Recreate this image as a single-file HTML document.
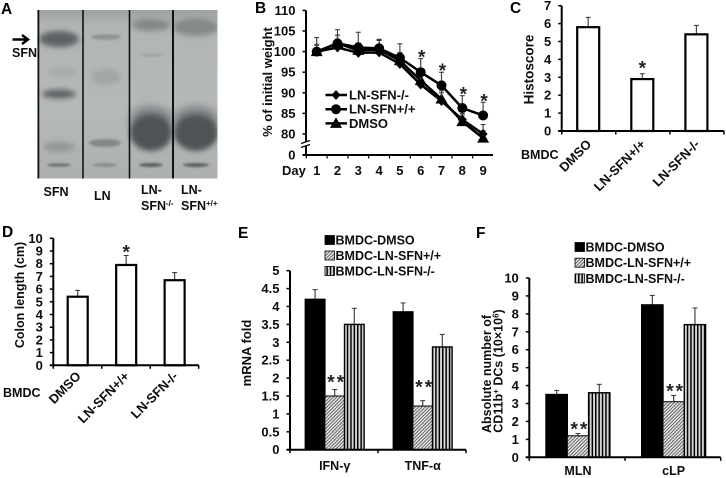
<!DOCTYPE html>
<html lang="en">
<head>
<meta charset="utf-8">
<title>Multi-panel figure</title>
<style>
html,body{margin:0;padding:0;background:#fff;width:726px;height:478px;overflow:hidden}
svg{display:block}
text{font-family:"Liberation Sans",sans-serif;font-weight:bold;fill:#111}
.letter{font-size:15.5px;fill:#000}
.star{font-weight:bold;font-size:19px;fill:#222}
</style>
</head>
<body>
<svg id="fig" xmlns="http://www.w3.org/2000/svg" width="726" height="478" viewBox="0 0 726 478" font-size="12.5">
<defs>
<pattern id="hatch" patternUnits="userSpaceOnUse" width="2.4" height="2.4" patternTransform="rotate(-45)">
<rect width="2.4" height="2.4" fill="#e6e6e6"/><rect width="2.4" height="1" fill="#666"/>
</pattern>
<pattern id="vstripe" patternUnits="userSpaceOnUse" width="3.4" height="4">
<rect width="3.4" height="4" fill="#d8d8d8"/><rect width="1.5" height="4" fill="#000"/>
</pattern>
<linearGradient id="gelbg" x1="0" y1="0" x2="0" y2="1">
<stop offset="0" stop-color="#9da1a1"/><stop offset="0.1" stop-color="#b2b5b5"/><stop offset="0.6" stop-color="#b6b9b9"/><stop offset="1" stop-color="#adb0b0"/>
</linearGradient>
<filter id="soft" x="-2%" y="-2%" width="104%" height="104%"><feGaussianBlur stdDeviation="0.35"/></filter>
<filter id="b1" x="-60%" y="-300%" width="220%" height="700%"><feGaussianBlur stdDeviation="1"/></filter>
<filter id="b3" x="-60%" y="-150%" width="220%" height="400%"><feGaussianBlur stdDeviation="2.6"/></filter>
<filter id="b5" x="-60%" y="-100%" width="220%" height="300%"><feGaussianBlur stdDeviation="5"/></filter>
<clipPath id="gelclip"><rect x="37" y="10" width="180.5" height="168.5"/></clipPath>
</defs>

<g id="panel-a">
<text class="letter" x="1" y="14">A</text>
<g clip-path="url(#gelclip)">
<rect x="37" y="10" width="181" height="169" fill="url(#gelbg)"/>
<ellipse cx="59" cy="39" rx="20" ry="8" fill="#5d6264" filter="url(#b3)"/>
<ellipse cx="62" cy="72" rx="15" ry="4" fill="#a6a9a9" filter="url(#b3)"/>
<ellipse cx="59" cy="94" rx="17" ry="4.5" fill="#5b6062" filter="url(#b3)"/>
<ellipse cx="59" cy="147" rx="16" ry="5" fill="#939696" filter="url(#b3)"/>
<ellipse cx="59" cy="165" rx="12" ry="1.8" fill="#6e7272" filter="url(#b1)"/>
<ellipse cx="106" cy="37" rx="15" ry="2.8" fill="#90948f" filter="url(#b1)"/>
<ellipse cx="106" cy="77" rx="15" ry="8" fill="#a3a6a6" filter="url(#b3)"/>
<ellipse cx="105" cy="143" rx="16" ry="4" fill="#858989" filter="url(#b1)"/>
<ellipse cx="105" cy="165" rx="12" ry="1.8" fill="#858989" filter="url(#b1)"/>
<ellipse cx="151" cy="25" rx="19" ry="6" fill="#838787" filter="url(#b3)"/>
<ellipse cx="151" cy="55" rx="12" ry="1.8" fill="#a0a4a4" filter="url(#b1)"/>
<ellipse cx="151" cy="120" rx="21" ry="13" fill="#74787a" filter="url(#b5)"/>
<ellipse cx="151" cy="133" rx="21" ry="18" fill="#4f5355" filter="url(#b3)"/>
<ellipse cx="151" cy="165" rx="12" ry="2" fill="#5c6062" filter="url(#b1)"/>
<ellipse cx="196" cy="27" rx="23" ry="9" fill="#858989" filter="url(#b3)"/>
<ellipse cx="196" cy="120" rx="22" ry="13" fill="#74787a" filter="url(#b5)"/>
<ellipse cx="196" cy="133" rx="22" ry="18" fill="#4f5355" filter="url(#b3)"/>
<ellipse cx="196" cy="165" rx="13" ry="2" fill="#5c6062" filter="url(#b1)"/>
<line x1="38.5" y1="10" x2="38.5" y2="179" stroke="#111" stroke-width="1.6"/>
<line x1="83" y1="10" x2="83" y2="179" stroke="#111" stroke-width="1.6"/>
<line x1="129.5" y1="10" x2="129.5" y2="179" stroke="#111" stroke-width="1.6"/>
<line x1="173" y1="10" x2="173" y2="179" stroke="#111" stroke-width="2"/>
</g>
<g filter="url(#soft)">
<path d="M12.5 39.5H27M22 35l6 4.5-6 4.5" fill="none" stroke="#000" stroke-width="2.4"/>
<text x="12" y="57">SFN</text>
<text x="43.5" y="196">SFN</text>
<text x="94" y="200">LN</text>
<text x="141" y="194">LN-</text>
<text x="141" y="210">SFN<tspan font-size="8" dy="-4">-/-</tspan></text>
<text x="181" y="194">LN-</text>
<text x="181" y="210">SFN<tspan font-size="8" dy="-4">+/+</tspan></text>
</g>
</g>

<g id="panel-b" filter="url(#soft)">
<text class="letter" x="255" y="13">B</text>
<text transform="translate(272,82) rotate(-90)" text-anchor="middle" font-size="13">% of initial weight</text>
</g>
<g id="panel-c" filter="url(#soft)">
<text class="letter" x="510" y="13">C</text>
<text transform="translate(533.5,69.5) rotate(-90)" text-anchor="middle" font-size="13.5">Histoscore</text>
<text x="521" y="159">BMDC</text>
</g>
<g id="panel-d" filter="url(#soft)">
<text class="letter" x="2" y="237">D</text>
<text transform="translate(24,295) rotate(-90)" text-anchor="middle">Colon length (cm)</text>
<text x="3" y="397">BMDC</text>
</g>
<g id="panel-e" filter="url(#soft)">
<text class="letter" x="238" y="238">E</text>
<text transform="translate(251,353) rotate(-90)" text-anchor="middle" font-size="13">mRNA fold</text>
</g>
<g id="panel-f" filter="url(#soft)">
<text class="letter" x="476" y="238">F</text>
<text transform="translate(491,374) rotate(-90)" text-anchor="middle">Absolute number of</text>
<text transform="translate(502.5,371) rotate(-90)" text-anchor="middle">CD11b<tspan font-size="8" dy="-4">+</tspan><tspan dy="4"> DCs (10×10</tspan><tspan font-size="8" dy="-4">6</tspan><tspan dy="4">)</tspan></text>
</g>
</svg>
<script>
// Panel B data
const bDays = [1, 2, 3, 4, 5, 6, 7, 8, 9];
const bTicks = [110, 105, 100, 95, 90, 85, 80, 0];
const bKO = [100, 101, 99.7, 99.8, 97, 92, 88, 83.5, 80];
const bWT = [100, 102, 101, 100.8, 98.5, 95, 91.8, 86.3, 84.5];
const bDMSO = [100, 102, 100.3, 100.5, 97.8, 93, 88.5, 83, 79];
const bKOErr = [1.8, 3.0, 2.0, 3.0, 2.5, 2.2, 2.0, 1.5, 2.3];
const bWTErr = [3.4, 3.3, 3.7, 2.2, 3.4, 3.3, 3.2, 3.0, 3.2];
const bDMSOErr = [1.5, 2.0, 1.8, 2.2, 2.0, 2.2, 2.0, 1.6, 1.8];
const bStarDays = [6, 7, 8, 9];
const bLegend = ['LN-SFN-/-', 'LN-SFN+/+', 'DMSO'];

// Panel C data
const cCategories = ['DMSO', 'LN-SFN+/+', 'LN-SFN-/-'];
const cValues = [5.8, 2.9, 5.4];
const cErrors = [0.55, 0.3, 0.5];
const cTicks = [0, 1, 2, 3, 4, 5, 6, 7];

// Panel D data
const dCategories = ['DMSO', 'LN-SFN+/+', 'LN-SFN-/-'];
const dValues = [5.4, 7.9, 6.7];
const dErrors = [0.5, 0.75, 0.6];
const dTicks = [0, 1, 2, 3, 4, 5, 6, 7, 8, 9, 10];

// Panel E data
const eGroups = ['IFN-γ', 'TNF-α'];
const eDMSO = [4.2, 3.85];
const eWT = [1.5, 1.22];
const eKO = [3.5, 2.87];
const eDMSOErr = [0.27, 0.25];
const eWTErr = [0.18, 0.15];
const eKOErr = [0.45, 0.35];
const eTicks = [0, 0.5, 1, 1.5, 2, 2.5, 3, 3.5, 4, 4.5, 5];

// Panel F data
const fGroups = ['MLN', 'cLP'];
const fDMSO = [3.5, 8.5];
const fWT = [1.2, 3.1];
const fKO = [3.6, 7.4];
const fDMSOErr = [0.23, 0.53];
const fWTErr = [0.13, 0.35];
const fKOErr = [0.47, 0.93];
const fTicks = [0, 1, 2, 3, 4, 5, 6, 7, 8, 9, 10];

const groupLegend = ['BMDC-DMSO', 'BMDC-LN-SFN+/+', 'BMDC-LN-SFN-/-'];
const groupFills = ['#000', 'url(#hatch)', 'url(#vstripe)'];

const NS = 'http://www.w3.org/2000/svg';
function mk(tag, parent, props) {
  const e = document.createElementNS(NS, tag);
  for (const k in props) e.setAttribute(k, props[k]);
  parent.appendChild(e);
  return e;
}
function label(parent, str, props) {
  const t = mk('text', parent, props);
  t.textContent = str;
  return t;
}
function drawYAxis(g, x, yFn, ticks, top, bottom, prefix) {
  const ax = mk('line', g, {x1: x, y1: top, x2: x, y2: bottom, stroke: '#000', 'stroke-width': 2});
  
  
  ticks.forEach(function (v) {
    const tk = mk('line', g, {x1: x - 3.5, y1: yFn(v), x2: x, y2: yFn(v), stroke: '#000', 'stroke-width': 1.5});
    
    
    const tl = label(g, String(v), {x: x - 10.5, y: yFn(v) + 4.5, 'text-anchor': 'end', 'font-size': 13});
    
    
  });
}
function drawXAxis(g, x0, x1, y, tickCount, prefix) {
  const ax = mk('line', g, {x1: x0 - 3.5, y1: y, x2: x1, y2: y, stroke: '#000', 'stroke-width': 2});
  
  
  for (let i = 0; i <= tickCount; i++) {
    const px = x0 + (x1 - x0) * i / tickCount;
    const tk = mk('line', g, {x1: px, y1: y, x2: px, y2: y + 3.5, stroke: '#000', 'stroke-width': 1.5});
    
    
  }
}
function drawError(g, x, yTop, yBase, name) {
  const s = mk('line', g, {x1: x, y1: yTop, x2: x, y2: yBase, stroke: '#444', 'stroke-width': 1.2});
  
  
  const c = mk('line', g, {x1: x - 2.5, y1: yTop, x2: x + 2.5, y2: yTop, stroke: '#333', 'stroke-width': 1});
  
  
}
function drawStar(g, x, yCenter, str, name) {
  const t = label(g, str, {x: x, y: yCenter + 11, 'text-anchor': 'middle', class: 'star', 'letter-spacing': str.length > 1 ? 2 : 0});
  
  
}

/* Panel B */
(function () {
  const g = document.getElementById('panel-b');
  const axisX = 306;
  const x = function (day) { return 316.7 + (day - 1) * 20.8; };
  const y = function (v) { return v === 0 ? 155 : 134 - (v - 80) * 4.12; };
  drawYAxis(g, axisX, y, bTicks, 10.5, 155, 'weight');
  const gapCover = mk('rect', g, {x: axisX - 5, y: 142, width: 9, height: 4, fill: '#fff'});
  
  
  [142, 146].forEach(function (py) {
    const br = mk('line', g, {x1: axisX - 5, y1: py + 1.5, x2: axisX + 4, y2: py - 1.5, stroke: '#000', 'stroke-width': 1.2});
    
    
  });
  const ax = mk('line', g, {x1: axisX - 3.5, y1: 155, x2: 493, y2: 155, stroke: '#000', 'stroke-width': 2});
  
  
  bDays.forEach(function (d) {
    const tk = mk('line', g, {x1: x(d) - 10.4, y1: 155, x2: x(d) - 10.4, y2: 158.5, stroke: '#000', 'stroke-width': 1.2});
    
    
    const t = label(g, String(d), {x: x(d), y: 175, 'text-anchor': 'middle', 'font-size': 13});
    
    
  });
  const dayT = label(g, 'Day', {x: 282, y: 175, 'font-size': 13});
  
  

  function marker(parent, kind, cx, cy, name) {
    let m;
    if (kind === 'diamond') {
      m = mk('path', parent, {d: 'M' + cx + ' ' + (cy - 5) + 'L' + (cx + 4.5) + ' ' + cy + 'L' + cx + ' ' + (cy + 5) + 'L' + (cx - 4.5) + ' ' + cy + 'Z', fill: '#000'});
    } else if (kind === 'circle') {
      m = mk('circle', parent, {cx: cx, cy: cy, r: 5, fill: '#000'});
    } else {
      m = mk('path', parent, {d: 'M' + cx + ' ' + (cy - 6) + 'L' + (cx + 6) + ' ' + (cy + 4.5) + 'L' + (cx - 6) + ' ' + (cy + 4.5) + 'Z', fill: '#000'});
    }
    
    
  }
  function series(vals, errs, kind, name) {
    vals.forEach(function (v, i) {
      drawError(g, x(bDays[i]), y(v + errs[i]), y(v), name + '-day-' + bDays[i]);
    });
    const pts = vals.map(function (v, i) { return x(bDays[i]) + ',' + y(v); }).join(' ');
    const pl = mk('polyline', g, {points: pts, fill: 'none', stroke: '#000', 'stroke-width': 2.5});
    
    
    vals.forEach(function (v, i) {
      marker(g, kind, x(bDays[i]), y(v), name + '-point-day-' + bDays[i]);
    });
  }
  series(bDMSO, bDMSOErr, 'triangle', 'dmso');
  series(bKO, bKOErr, 'diamond', 'ln-sfn-ko');
  series(bWT, bWTErr, 'circle', 'ln-sfn-wt');
  bStarDays.forEach(function (d) {
    const i = bDays.indexOf(d);
    drawStar(g, x(d) + 1, y(bWT[i] + bWTErr[i]) - 6, '*', 'significance-star-day-' + d);
  });
  const kinds = ['diamond', 'circle', 'triangle'];
  bLegend.forEach(function (s, i) {
    const ly = 95 + i * 14.2;
    const ln = mk('line', g, {x1: 325.5, y1: ly, x2: 347, y2: ly, stroke: '#000', 'stroke-width': 2.5});
    
    
    marker(g, kinds[i], 336, ly, 'legend-marker-' + i);
    const t = label(g, s, {x: 349, y: ly + 4.5, 'font-size': 13});
    
    
  });
})();

/* Panels C and D */
function singleBars(panelId, prefix, cats, vals, errs, ticks, axisX, endX, y0, unit, barW, barLead, labelY, starIndex, starOffset) {
  const g = document.getElementById(panelId);
  const catW = (endX - axisX) / cats.length;
  const y = function (v) { return y0 - v * unit; };
  const x = function (i) { return axisX + i * catW + barLead; };
  drawYAxis(g, axisX, y, ticks, y(ticks[ticks.length - 1]), y0, prefix);
  vals.forEach(function (v, i) {
    drawError(g, x(i) + barW / 2, y(v + errs[i]), y(v), prefix + '-bar-' + i);
    const b = mk('rect', g, {x: x(i), y: y(v), width: barW, height: y0 - y(v), fill: '#fff', stroke: '#000', 'stroke-width': 2.2});
    
    
    const t = label(g, cats[i], {'text-anchor': 'end', 'font-size': 13, transform: 'translate(' + (x(i) + barW / 2 + 4) + ',' + labelY + ') rotate(-45)'});
    
    
  });
  drawXAxis(g, axisX, endX, y0, cats.length, prefix);
  drawStar(g, x(starIndex) + barW / 2, y(vals[starIndex] + errs[starIndex]) - starOffset, '*', prefix + '-significance-star');
}
singleBars('panel-c', 'histoscore', cCategories, cValues, cErrors, cTicks, 561.7, 724, 131, 17.9, 22, 15.5, 145, 1, 10);
singleBars('panel-d', 'colon-length', dCategories, dValues, dErrors, dTicks, 53.3, 198.7, 365.3, 12.7, 20, 14.4, 377, 1, 8);

/* Panels E and F */
function groupedBars(panelId, prefix, groups, s1, s2, s3, e1, e2, e3, ticks, axisX, endX, y0, unit, barW, lead, groupLabelY, legendX, legendY, legendGap, starUp) {
  const g = document.getElementById(panelId);
  const catW = (endX - axisX) / groups.length;
  const y = function (v) { return y0 - v * unit; };
  const x = function (gi, si) { return axisX + gi * catW + lead + si * barW; };
  drawYAxis(g, axisX, y, ticks, y(ticks[ticks.length - 1]), y0, prefix);
  const allVals = [s1, s2, s3];
  const allErrs = [e1, e2, e3];
  groups.forEach(function (name, gi) {
    allVals.forEach(function (vals, si) {
      const v = vals[gi];
      drawError(g, x(gi, si) + barW / 2, y(v + allErrs[si][gi]), y(v), prefix + '-' + name + '-' + si);
      const b = mk('rect', g, {x: x(gi, si), y: y(v), width: barW, height: y0 - y(v), fill: groupFills[si], stroke: '#000', 'stroke-width': si === 1 ? 1 : 1.4});
      
      
    });
    drawStar(g, x(gi, 1) + barW / 2 + 2, y(s2[gi] + e2[gi]) - starUp[gi], '**', prefix + '-significance-stars-' + gi);
    const t = label(g, name, {x: x(gi, 1) + barW / 2, y: groupLabelY, 'text-anchor': 'middle'});
    
    
  });
  drawXAxis(g, axisX, endX, y0, groups.length, prefix);
  groupLegend.forEach(function (s, i) {
    const ly = legendY + i * legendGap;
    const sw = mk('rect', g, {x: legendX, y: ly - 4.5, width: 9.5, height: 9, fill: groupFills[i], stroke: '#000', 'stroke-width': 0.8});
    
    
    const t = label(g, s, {x: legendX + 10.5, y: ly + 4.5});
    
    
  });
}
groupedBars('panel-e', 'mrna', eGroups, eDMSO, eWT, eKO, eDMSOErr, eWTErr, eKOErr, eTicks, 290, 466, 449.7, 35.8, 19.6, 15.3, 470, 325, 240, 15.5, [12, 18]);
groupedBars('panel-f', 'dc-count', fGroups, fDMSO, fWT, fKO, fDMSOErr, fWTErr, fKOErr, fTicks, 529.3, 720.7, 457.3, 17.93, 21.3, 16.7, 475, 575, 247, 15.7, [9, 9]);
</script>
</body>
</html>
